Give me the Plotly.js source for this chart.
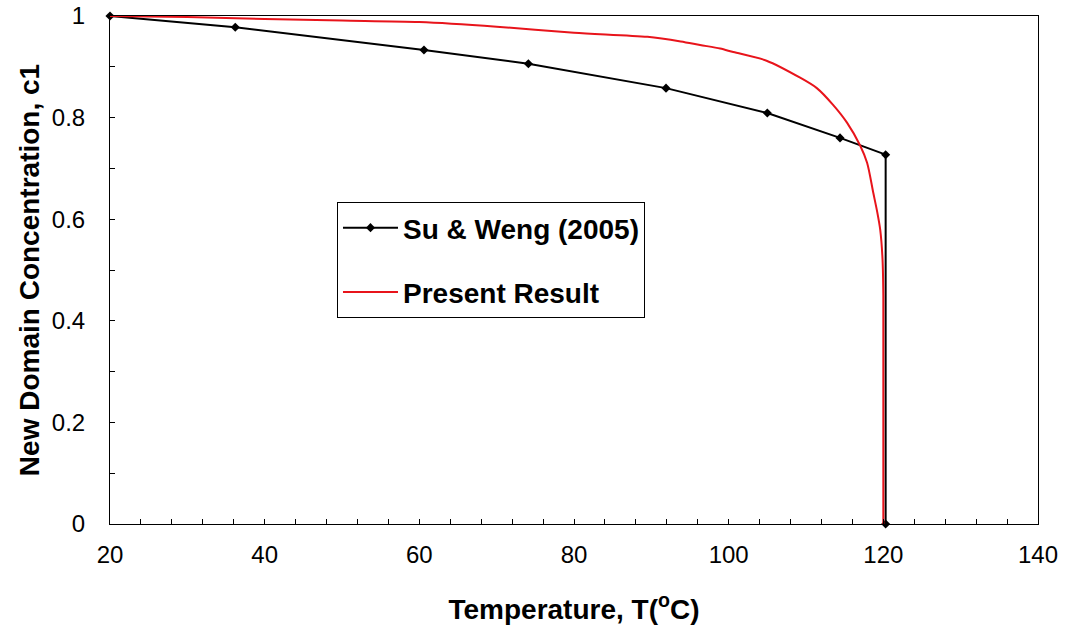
<!DOCTYPE html>
<html>
<head>
<meta charset="utf-8">
<script src="https://cdn.plot.ly/plotly-3.0.1.min.js"></script>
<style>html,body{margin:0;padding:0;background:#fff;}#chart{width:1070px;height:634px;}</style>
</head>
<body>
<div id="chart"></div>
<script>
// Su & Weng (2005)
const suT = [20, 36.2, 60.6, 74.1, 91.9, 105, 114.4, 120.3, 120.3];
const suC = [1, 0.978, 0.933, 0.906, 0.858, 0.809, 0.760, 0.727, 0];
// Present Result
const presT = [20, 30, 40, 50, 60, 70, 80, 89.5, 93.8, 96.3, 98.9, 100.6, 104.9, 109.3, 111.4, 113.5, 115.3, 117, 117.9, 118.7, 119.2, 119.6, 119.9, 120, 120];
const presC = [1, 0.998, 0.994, 0.991, 0.988, 0.979, 0.967, 0.959, 0.950, 0.943, 0.936, 0.929, 0.912, 0.878, 0.858, 0.825, 0.79, 0.745, 0.711, 0.652, 0.615, 0.579, 0.52, 0.45, 0];
const seriesNames = ['Su & Weng (2005)', 'Present Result'];
const xTitle = 'Temperature, T(<sup>o</sup>C)';
const yTitle = 'New Domain Concentration, c1';

const FONT = 'Liberation Sans, Arial, sans-serif';

const traces = [
  {
    x: suT, y: suC, name: seriesNames[0], type: 'scatter', mode: 'lines+markers',
    line: {color: '#000000', width: 2},
    marker: {symbol: 'diamond', size: 7, color: '#000000'},
    cliponaxis: false, legendgroup: 'a'
  },
  {
    x: presT, y: presC, name: seriesNames[1], type: 'scatter', mode: 'lines',
    line: {color: '#e8141b', width: 2, shape: 'spline', smoothing: 0.8},
    cliponaxis: false, legendgroup: 'b'
  }
];

const layout = {
  width: 1070, height: 634,
  paper_bgcolor: '#ffffff', plot_bgcolor: '#ffffff',
  margin: {l: 110, r: 32, t: 16, b: 110},
  font: {family: FONT, color: '#000'},
  showlegend: true,
  legend: {
    x: 0.2446, y: 0.634, xanchor: 'left', yanchor: 'top',
    bgcolor: '#ffffff', bordercolor: '#000', borderwidth: 1,
    font: {family: FONT, size: 28, color: '#000', weight: 'bold'},
    itemwidth: 55, traceorder: 'grouped', tracegroupgap: 25
  },
  xaxis: {
    range: [20, 140], dtick: 20, tick0: 20,
    ticks: 'inside', ticklen: 5, tickcolor: '#000',
    minor: {dtick: 4, ticks: 'inside', ticklen: 5, tickcolor: '#000', showgrid: false},
    showgrid: false, zeroline: false,
    showline: true, linecolor: '#000', linewidth: 1, mirror: true,
    tickfont: {family: FONT, size: 24, color: '#000'},
    ticklabelstandoff: 9,
    automargin: false,
    title: {text: xTitle, font: {family: FONT, size: 28, color: '#000', weight: 'bold'}, standoff: 32}
  },
  yaxis: {
    range: [0, 1], dtick: 0.2, tick0: 0,
    ticks: 'inside', ticklen: 5, tickcolor: '#000',
    minor: {dtick: 0.1, ticks: 'inside', ticklen: 5, tickcolor: '#000', showgrid: false},
    showgrid: false, zeroline: false,
    showline: true, linecolor: '#000', linewidth: 1, mirror: true,
    tickfont: {family: FONT, size: 24, color: '#000'},
    ticklabelstandoff: 19,
    automargin: false,
    title: {text: yTitle, font: {family: FONT, size: 28, color: '#000', weight: 'bold'}, standoff: 4}
  }
};

Plotly.newPlot('chart', traces, layout, {displayModeBar: false, staticPlot: true});
</script>
</body>
</html>
